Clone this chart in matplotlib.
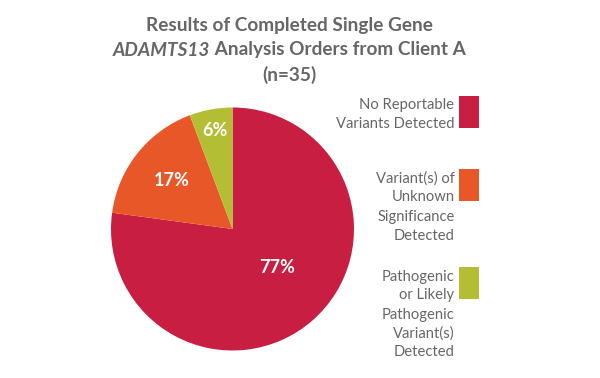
import numpy as np
import matplotlib.pyplot as plt
from matplotlib.patches import Rectangle

plt.rcParams['font.family'] = ['Lato', 'DejaVu Sans']

categories = ['No Reportable\nVariants Detected',
              'Variant(s) of\nUnknown\nSignificance\nDetected',
              'Pathogenic\nor Likely\nPathogenic\nVariant(s)\nDetected']
counts = [27, 6, 2]
pct_labels = ['77%', '17%', '6%']
colors = ['#C81E42', '#E85727', '#B4BE34']
gray = '#666666'

W, H = 600, 378
fig = plt.figure(figsize=(W / 100, H / 100), dpi=100)
r = fig.canvas.get_renderer()


def fx(px):
    return px / W


def fy(py):
    return 1 - py / H


def fit_size(text, target_px, **kw):
    t = fig.text(0, 0, text, fontsize=10, **kw)
    w = t.get_window_extent(r).width
    t.remove()
    return 10 * target_px / w


# pie: centre ~ (232.5, 229) px, radius ~121.5 px
cx, cy, rad = 232.5, 229, 121.5
ax = fig.add_axes([fx(cx - rad), fy(cy + rad), 2 * rad / W, 2 * rad / H])
wedges, _ = ax.pie(counts, colors=colors, startangle=90, counterclock=False,
                   radius=1.0, wedgeprops=dict(linewidth=0))
ax.set_xlim(-1, 1)
ax.set_ylim(-1, 1)
ax.set_aspect('equal')
ax.axis('off')

label_r = [0.49, 0.635, 0.82]
label_shift = [8, 0, 0]
for w, lab, rr, sh in zip(wedges, pct_labels, label_r, label_shift):
    ang = np.deg2rad((w.theta1 + w.theta2) / 2 + sh)
    ax.text(rr * np.cos(ang), rr * np.sin(ang), lab, color='white',
            fontsize=13, fontweight='bold', ha='center', va='center')

# title, centred at x ~289
tx = 289
line2a, line2b = 'ADAMTS13', ' Analysis Orders from Client A'
t_it = fig.text(0, fy(55.5), line2a, ha='left', va='baseline', fontsize=10,
                fontweight='bold', fontstyle='italic', color=gray)
t_rest = fig.text(0, fy(55.5), line2b, ha='left', va='baseline', fontsize=10,
                  fontweight='bold', color=gray)
w_tot = t_it.get_window_extent(r).width + t_rest.get_window_extent(r).width
tsize = 10 * 353 / w_tot
t_it.set_fontsize(tsize)
t_rest.set_fontsize(tsize)
w1 = t_it.get_window_extent(r).width
w2 = t_rest.get_window_extent(r).width
x0 = tx - (w1 + w2) / 2
t_it.set_x(fx(x0))
t_rest.set_x(fx(x0 + w1))
fig.text(fx(tx), fy(30.5), 'Results of Completed Single Gene', ha='center',
         va='baseline', fontsize=tsize, fontweight='bold', color=gray)
fig.text(fx(tx), fy(80.5), '(n=35)', ha='center', va='baseline',
         fontsize=tsize, fontweight='bold', color=gray)

# legend
lsize = fit_size('Variants Detected', 118)
box_tops = [95.7, 169, 267]
for cat, col, top in zip(categories, colors, box_tops):
    fig.patches.append(Rectangle((fx(459), fy(top + 32)), 20 / W, 32 / H,
                                 transform=fig.transFigure, facecolor=col,
                                 edgecolor='none'))
    for i, line in enumerate(cat.split('\n')):
        fig.text(fx(454.5), fy(top + 13.5 + 19 * i), line, ha='right',
                 va='baseline', fontsize=lsize, color=gray)

fig.savefig('out.png', dpi=100)
plt.close(fig)
